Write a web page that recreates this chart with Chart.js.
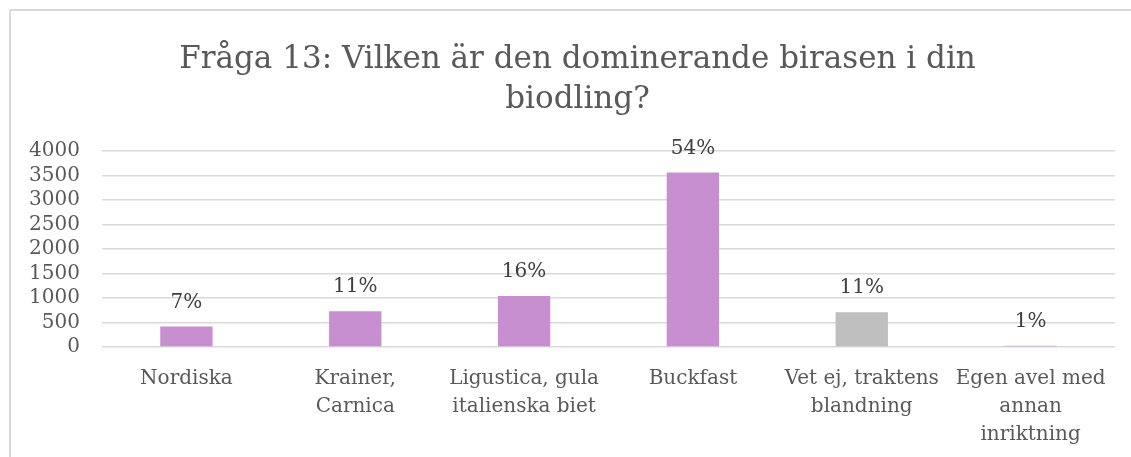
<!DOCTYPE html>
<html>
<head>
<meta charset="utf-8">
<script src="https://cdn.jsdelivr.net/npm/chart.js@4.4.1/dist/chart.umd.min.js"></script>
<style>
    html, body { margin: 0; background: #fff; overflow: hidden; }
    #wrap { position: relative; width: 1131px; height: 457px; overflow: hidden; }
    #frame {
        position: absolute; left: 9px; top: 9px; right: 0; bottom: 0;
        border-left: 2px solid #d9d9d9; border-top: 2px solid #d9d9d9;
    }
    #birasChart { position: absolute; left: 0; top: 0; }
</style>
</head>
<body>
<div id="wrap">
    <div id="frame"></div>
    <canvas id="birasChart" width="1131" height="457"></canvas>
</div>
<script>
const titleLines = ['Fråga 13: Vilken är den dominerande birasen i din', 'biodling?'];
const categories = [
    'Nordiska',
    ['Krainer,', 'Carnica'],
    ['Ligustica, gula', 'italienska biet'],
    'Buckfast',
    ['Vet ej, traktens', 'blandning'],
    ['Egen avel med', 'annan', 'inriktning']
];
const answers = [420, 730, 1040, 3560, 710, 25];
const percentLabels = ['7%', '11%', '16%', '54%', '11%', '1%'];
const yTicks = [0, 500, 1000, 1500, 2000, 2500, 3000, 3500, 4000];

const purple = '#c78fcf';
const grey = '#bfbfbf';
const barColors = [purple, purple, purple, purple, grey, purple];

const serif = "'DejaVu Serif', 'Liberation Serif', serif";

// draws the percentage above each bar
const percentLabelPlugin = {
    id: 'percentLabels',
    afterDatasetsDraw(chart) {
        const ctx = chart.ctx;
        const meta = chart.getDatasetMeta(0);
        ctx.save();
        ctx.font = '20px ' + serif;
        ctx.fillStyle = '#404040';
        ctx.textAlign = 'center';
        ctx.textBaseline = 'middle';
        meta.data.forEach((bar, i) => {
            ctx.fillText(percentLabels[i], bar.x, bar.y - 24);
        });
        ctx.restore();
    }
};

// title is centred on the framed area, not on the canvas
const frameTitlePlugin = {
    id: 'frameTitle',
    afterDraw(chart) {
        const ctx = chart.ctx;
        ctx.save();
        ctx.font = '31px ' + serif;
        ctx.fillStyle = '#595959';
        ctx.textAlign = 'center';
        ctx.textBaseline = 'middle';
        titleLines.forEach((line, i) => {
            ctx.fillText(line, 577.5, 60 + i * 40);
        });
        ctx.restore();
    }
};

const birasCanvas = document.getElementById('birasChart').getContext('2d');

new Chart(birasCanvas, {
    type: 'bar',
    data: {
        labels: categories,
        datasets: [{
            data: answers,
            backgroundColor: barColors,
            categoryPercentage: 1,
            barPercentage: 0.31
        }]
    },
    options: {
        responsive: false,
        animation: false,
        layout: {
            padding: { left: 12, right: 16, top: 151, bottom: 6 }
        },
        plugins: {
            legend: { display: false },
            tooltip: { enabled: false },
            title: { display: false }
        },
        scales: {
            x: {
                afterFit(scale) {
                    scale.height = 104;
                },
                grid: { display: false },
                border: { display: false },
                ticks: {
                    color: '#595959',
                    font: { family: serif, size: 20, lineHeight: 1.4 },
                    padding: 10,
                    maxRotation: 0,
                    minRotation: 0,
                    autoSkip: false
                }
            },
            y: {
                min: 0,
                max: 4000,
                afterBuildTicks(scale) {
                    scale.ticks = yTicks.map(v => ({ value: v }));
                },
                afterFit(scale) {
                    scale.width = 90;
                },
                grid: {
                    color: '#d9d9d9',
                    lineWidth: 1.5,
                    drawTicks: false
                },
                border: { display: false },
                ticks: {
                    color: '#595959',
                    font: { family: serif, size: 20 },
                    padding: 22,
                    autoSkip: false,
                    callback: value => String(value)
                }
            }
        }
    },
    plugins: [percentLabelPlugin, frameTitlePlugin]
});
</script>
</body>
</html>
